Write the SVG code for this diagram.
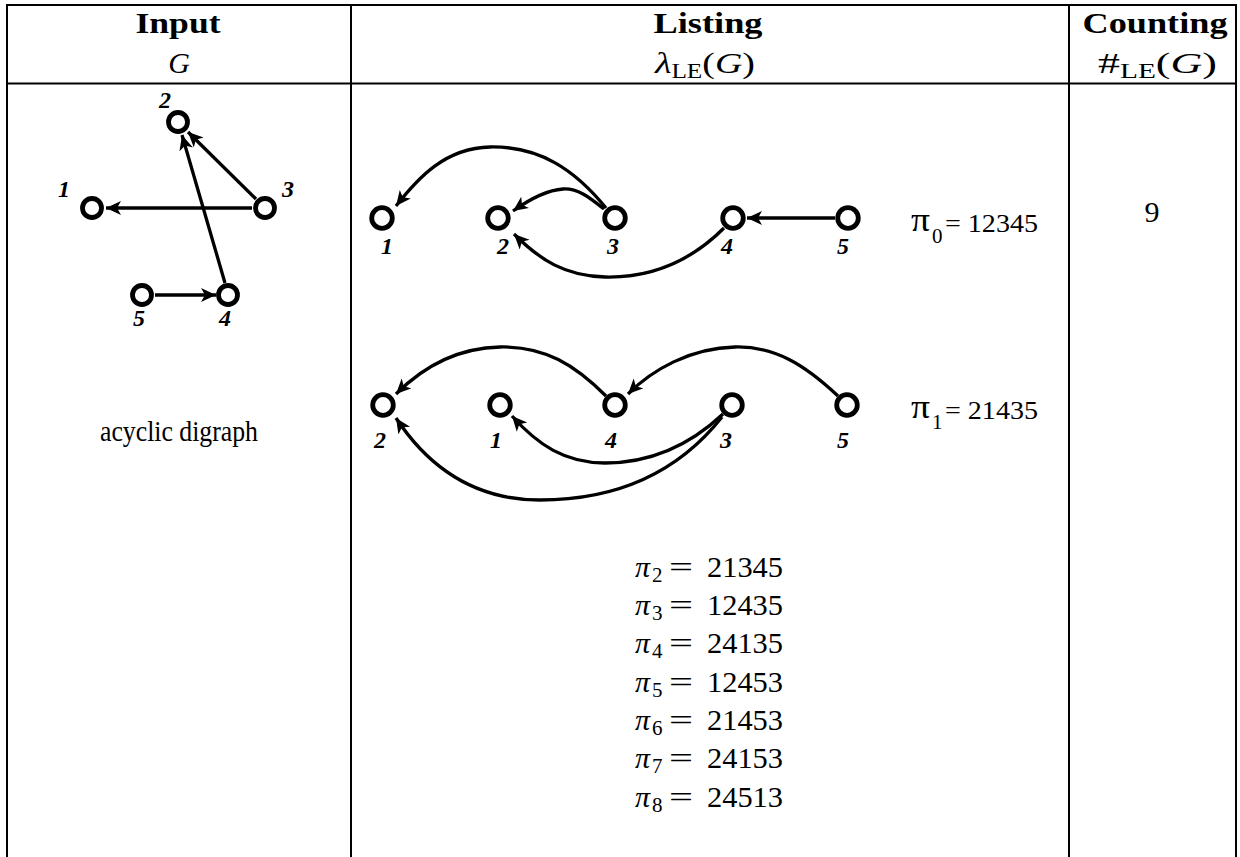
<svg xmlns="http://www.w3.org/2000/svg" width="1240" height="857" viewBox="0 0 1240 857">
  <style>
    .rule { stroke: #000; stroke-width: 2; fill: none; }
    .node { fill: #fff; stroke: #000; stroke-width: 4.8; }
    .edge { fill: none; stroke: #000; stroke-width: 3.3; marker-end: url(#arrow); }
    .lbl { font-family: "Liberation Serif", "Times New Roman", serif; font-weight: bold; font-style: italic; font-size: 24px; text-anchor: middle; }
    .hd { font-family: "Liberation Serif", "Times New Roman", serif; font-weight: bold; font-size: 30px; text-anchor: middle; }
    .math { font-family: "Liberation Serif", "Times New Roman", serif; font-size: 30px; }
    .sub { font-family: "Liberation Serif", "Times New Roman", serif; font-size: 21px; }
    .it { font-style: italic; }
    .perm { font-family: "Liberation Serif", "Times New Roman", serif; }
  </style>
  <defs>
    <marker id="arrow" markerUnits="userSpaceOnUse" markerWidth="18" markerHeight="16" refX="15" refY="7" orient="auto">
      <path d="M15,7 L0,0 L4,7 L0,14 Z" fill="#000"/>
    </marker>
  </defs>

  <!-- table rules -->
  <g id="table">
    <line class="rule" x1="6" y1="5" x2="1237" y2="5"/>
    <line class="rule" x1="6" y1="83.5" x2="1237" y2="83.5" stroke-width="3"/>
    <line class="rule" x1="7" y1="4" x2="7" y2="857"/>
    <line class="rule" x1="351" y1="4" x2="351" y2="857"/>
    <line class="rule" x1="1069" y1="4" x2="1069" y2="857"/>
    <line class="rule" x1="1236" y1="4" x2="1236" y2="857"/>
  </g>

  <!-- column headers -->
  <g id="headers">
    <text class="hd" x="178" y="33" textLength="85" lengthAdjust="spacingAndGlyphs">Input</text>
    <text class="math it" x="179" y="73" text-anchor="middle" font-size="31">G</text>
    <text class="hd" x="708" y="33" textLength="109" lengthAdjust="spacingAndGlyphs">Listing</text>
    <text class="math" x="655" y="73" font-size="31" textLength="100" lengthAdjust="spacingAndGlyphs"><tspan class="it">λ</tspan><tspan font-size="20" dy="5">LE</tspan><tspan dy="-5">(</tspan><tspan class="it">G</tspan><tspan>)</tspan></text>
    <text class="hd" x="1155" y="33" textLength="145" lengthAdjust="spacingAndGlyphs">Counting</text>
    <text class="math" x="1098" y="73" font-size="31" textLength="119" lengthAdjust="spacingAndGlyphs"><tspan>#</tspan><tspan font-size="20" dy="5">LE</tspan><tspan dy="-5">(</tspan><tspan class="it">G</tspan><tspan>)</tspan></text>
  </g>

  <!-- input graph G -->
  <g id="input-edges">
    <path class="edge" d="M252,208 L106,208"/>
    <path class="edge" d="M256,199 L188,132"/>
    <path class="edge" d="M225,283 L182,135"/>
    <path class="edge" d="M155,295 L216,295"/>
  </g>
  <g id="g-n1"><circle class="node" cx="92" cy="208" r="9.5"/><text class="lbl" x="64" y="197">1</text></g>
  <g id="g-n2"><circle class="node" cx="178" cy="122" r="9.5"/><text class="lbl" x="165" y="108">2</text></g>
  <g id="g-n3"><circle class="node" cx="265" cy="208" r="9.5"/><text class="lbl" x="288" y="197">3</text></g>
  <g id="g-n4"><circle class="node" cx="228" cy="295" r="9.5"/><text class="lbl" x="225" y="326">4</text></g>
  <g id="g-n5"><circle class="node" cx="142" cy="295" r="9.5"/><text class="lbl" x="139" y="326">5</text></g>
  <text id="g-caption" class="math" x="179" y="441" text-anchor="middle" font-size="27" textLength="158" lengthAdjust="spacingAndGlyphs">acyclic digraph</text>

  <!-- linear extension pi0 = 12345 -->
  <g id="pi0-edges">
    <path class="edge" d="M606,208 C575,170 540,146 490,147 C445,148 418,178 396,206"/>
    <path class="edge" d="M604,209 C590,198 578,188 563,189 C548,190 530,199 513,211"/>
    <path class="edge" d="M724,228 C690,262 650,278 605,277 C565,276 540,260 514,234"/>
    <path class="edge" d="M835,218 L747,218"/>
  </g>
  <g id="pi0-n1"><circle class="node" cx="382" cy="218" r="10.3"/><text class="lbl" x="387" y="254">1</text></g>
  <g id="pi0-n2"><circle class="node" cx="498" cy="218" r="10.3"/><text class="lbl" x="503" y="254">2</text></g>
  <g id="pi0-n3"><circle class="node" cx="615" cy="218" r="10.3"/><text class="lbl" x="613" y="254">3</text></g>
  <g id="pi0-n4"><circle class="node" cx="733" cy="218" r="10.3"/><text class="lbl" x="727" y="254">4</text></g>
  <g id="pi0-n5"><circle class="node" cx="848" cy="218" r="10.3"/><text class="lbl" x="843" y="254">5</text></g>
  <g id="pi0-label" class="perm">
    <text x="911" y="231" font-size="34" textLength="19" lengthAdjust="spacingAndGlyphs">π</text>
    <text x="932" y="243" font-size="21">0</text>
    <text x="945" y="232" font-size="26" textLength="93" lengthAdjust="spacingAndGlyphs">= 12345</text>
  </g>

  <!-- linear extension pi1 = 21435 -->
  <g id="pi1-edges">
    <path class="edge" d="M606,396 C575,365 545,346 500,347 C455,348 420,370 396,394"/>
    <path class="edge" d="M838,396 C805,365 775,346 735,347 C690,348 652,370 628,394"/>
    <path class="edge" d="M723,414 C690,445 650,463 605,463 C565,463 538,445 512,416"/>
    <path class="edge" d="M722,417 C680,470 620,500 540,500 C470,500 425,462 396,418"/>
  </g>
  <g id="pi1-n2"><circle class="node" cx="383" cy="405" r="10.3"/><text class="lbl" x="380" y="448">2</text></g>
  <g id="pi1-n1"><circle class="node" cx="500" cy="405" r="10.3"/><text class="lbl" x="496" y="448">1</text></g>
  <g id="pi1-n4"><circle class="node" cx="615" cy="405" r="10.3"/><text class="lbl" x="611" y="448">4</text></g>
  <g id="pi1-n3"><circle class="node" cx="732" cy="405" r="10.3"/><text class="lbl" x="726" y="448">3</text></g>
  <g id="pi1-n5"><circle class="node" cx="847" cy="405" r="10.3"/><text class="lbl" x="843" y="448">5</text></g>
  <g id="pi1-label" class="perm">
    <text x="911" y="418" font-size="34" textLength="19" lengthAdjust="spacingAndGlyphs">π</text>
    <text x="932" y="429" font-size="21">1</text>
    <text x="945" y="419" font-size="26" textLength="93" lengthAdjust="spacingAndGlyphs">= 21435</text>
  </g>

  <!-- remaining linear extensions -->
  <g id="listing">
    <g id="pi2"><text class="math it" x="635" y="577">π</text><text class="sub" x="652" y="582">2</text><text class="math" x="669" y="577" textLength="24" lengthAdjust="spacingAndGlyphs">=</text><text class="math" x="707" y="577" textLength="76" lengthAdjust="spacingAndGlyphs">21345</text></g>
    <g id="pi3"><text class="math it" x="635" y="615">π</text><text class="sub" x="652" y="620">3</text><text class="math" x="669" y="615" textLength="24" lengthAdjust="spacingAndGlyphs">=</text><text class="math" x="707" y="615" textLength="76" lengthAdjust="spacingAndGlyphs">12435</text></g>
    <g id="pi4"><text class="math it" x="635" y="653">π</text><text class="sub" x="652" y="658">4</text><text class="math" x="669" y="653" textLength="24" lengthAdjust="spacingAndGlyphs">=</text><text class="math" x="707" y="653" textLength="76" lengthAdjust="spacingAndGlyphs">24135</text></g>
    <g id="pi5"><text class="math it" x="635" y="692">π</text><text class="sub" x="652" y="697">5</text><text class="math" x="669" y="692" textLength="24" lengthAdjust="spacingAndGlyphs">=</text><text class="math" x="707" y="692" textLength="76" lengthAdjust="spacingAndGlyphs">12453</text></g>
    <g id="pi6"><text class="math it" x="635" y="730">π</text><text class="sub" x="652" y="735">6</text><text class="math" x="669" y="730" textLength="24" lengthAdjust="spacingAndGlyphs">=</text><text class="math" x="707" y="730" textLength="76" lengthAdjust="spacingAndGlyphs">21453</text></g>
    <g id="pi7"><text class="math it" x="635" y="768">π</text><text class="sub" x="652" y="773">7</text><text class="math" x="669" y="768" textLength="24" lengthAdjust="spacingAndGlyphs">=</text><text class="math" x="707" y="768" textLength="76" lengthAdjust="spacingAndGlyphs">24153</text></g>
    <g id="pi8"><text class="math it" x="635" y="807">π</text><text class="sub" x="652" y="812">8</text><text class="math" x="669" y="807" textLength="24" lengthAdjust="spacingAndGlyphs">=</text><text class="math" x="707" y="807" textLength="76" lengthAdjust="spacingAndGlyphs">24513</text></g>
  </g>

  <!-- count -->
  <text id="count" class="math" x="1152" y="222" text-anchor="middle">9</text>
</svg>
